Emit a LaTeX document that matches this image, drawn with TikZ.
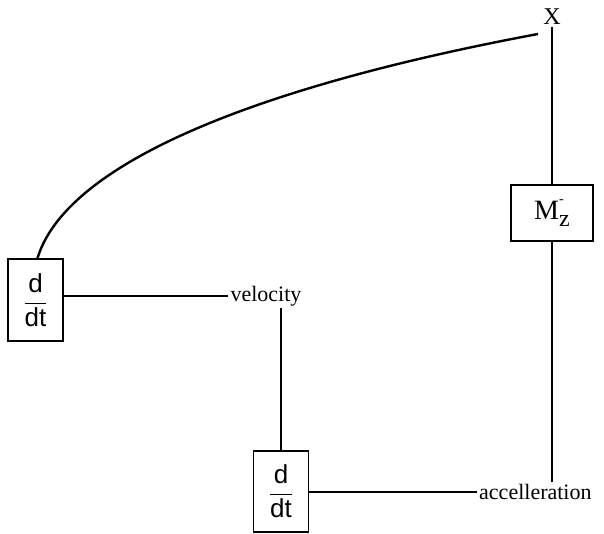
\documentclass[tikz,border=0pt]{standalone}
\usepackage{fontspec}
\setmainfont{Liberation Serif}
\newfontfamily\fracfont{Liberation Sans}
\newcommand{\ddtfrac}{\fracfont$\displaystyle\frac{\mbox{d}}{\mbox{dt}}$}
\begin{document}
\begin{tikzpicture}[x=1pt,y=-1pt,
  lbl/.style={font=\fontsize{22}{26}\selectfont, inner sep=2pt},
  blk/.style={draw, line width=1.5pt, font=\fontsize{26}{30}\selectfont, inner sep=0pt},
  wire/.style={line width=1.5pt},
  curv/.style={line width=2.4pt}]
\useasboundingbox (0,0) rectangle (604,534);
\node[lbl, font=\fontsize{24}{28}\selectfont] (X) at (552,17) {X};
\node[blk, minimum width=82pt, minimum height=56pt, font=\fontsize{28}{32}\selectfont] (M) at (552,213) {M\rlap{\raisebox{16pt}{\fontsize{14}{16}\selectfont -}}\raisebox{-7pt}{\fontsize{24}{28}\selectfont z}};
\node[lbl, anchor=west] (acc) at (477,492) {accelleration};
\node[blk, minimum width=55pt, minimum height=81pt] (D2) at (281,491.5) {\ddtfrac};
\node[lbl] (vel) at (266,296) {velocity};
\node[blk, minimum width=55pt, minimum height=82pt] (D1) at (35.5,300) {\ddtfrac};
\coordinate (cend) at (538,34);
\draw[wire] (X.south) -- (M.north);
\draw[wire] (M.south) -- (M.south |- acc.north);
\draw[wire] (D2.east |- acc.west) -- (acc.west);
\draw[wire] (D2.north) -- (D2.north |- vel.south);
\draw[wire] (D1.east |- vel.west) -- (vel.west);
\draw[curv] ([xshift=2pt]D1.north) .. controls (64,170) and (233,91) .. (cend);
\end{tikzpicture}
\end{document}
